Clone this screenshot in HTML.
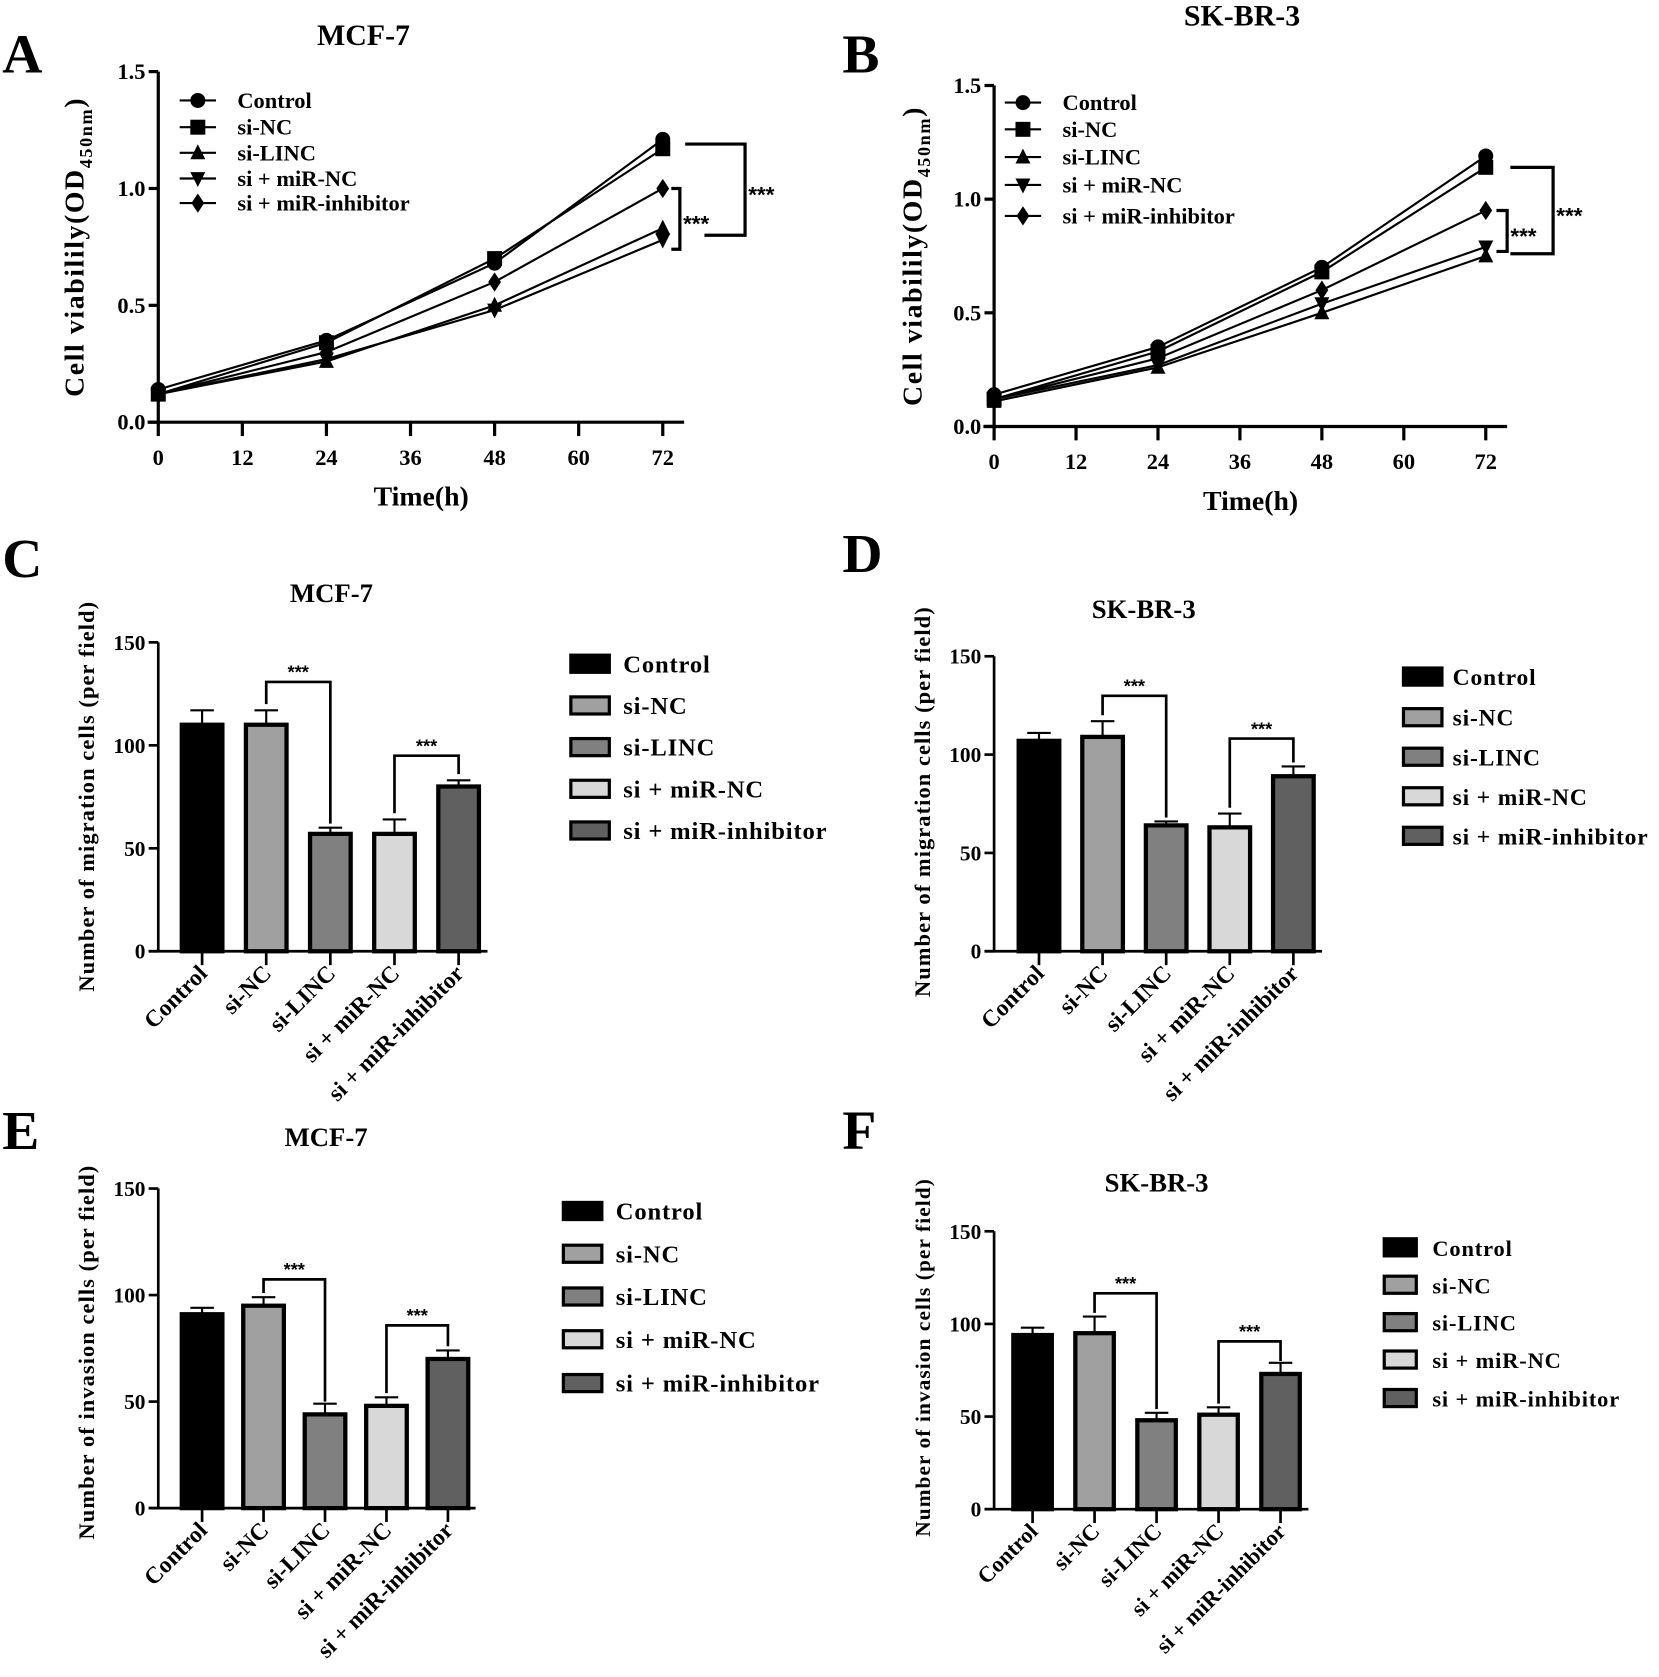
<!DOCTYPE html>
<html><head><meta charset="utf-8"><style>
html,body{margin:0;padding:0;background:#fff;}
svg{display:block;font-family:"Liberation Serif",serif;font-weight:bold;}
</style></head><body>
<svg id="fig" width="1659" height="1677" viewBox="0 0 1552 1569" xmlns="http://www.w3.org/2000/svg"></svg>
<script>
const NS="http://www.w3.org/2000/svg";
const svg=document.getElementById('fig');
// ---- data ----
const timePoints=[0,24,48,72];
const xTicks=[0,12,24,36,48,60,72];
const yTicksLine=[0,0.5,1.0,1.5];
const seriesNames=["Control","si-NC","si-LINC","si + miR-NC","si + miR-inhibitor"];
const aControl=[0.14,0.35,0.68,1.21];
const aSiNC=[0.12,0.34,0.70,1.17];
const aSiLINC=[0.12,0.26,0.50,0.83];
const aMiRNC=[0.12,0.27,0.48,0.78];
const aInhib=[0.12,0.30,0.60,1.00];
const bControl=[0.14,0.35,0.70,1.19];
const bSiNC=[0.12,0.33,0.68,1.14];
const bSiLINC=[0.11,0.26,0.50,0.75];
const bMiRNC=[0.12,0.27,0.54,0.79];
const bInhib=[0.12,0.30,0.60,0.95];
const barCats=["Control","si-NC","si-LINC","si + miR-NC","si + miR-inhibitor"];
const yTicksBar=[0,50,100,150];
const cVals=[110,110,57,57,80]; const cErr=[7,7,3,7,3];
const dVals=[107,109,64,63,89]; const dErr=[4,8,2,7,5];
const eVals=[91,95,44,48,70]; const eErr=[3,4,5,4,4];
const fVals=[94,95,48,51,73]; const fErr=[4,9,4,4,6];
const barColors=["#000","#a0a0a0","#808080","#d8d8d8","#606060"];

function el(tag,attrs,parent,text){const e=document.createElementNS(NS,tag);for(const k in attrs)e.setAttribute(k,attrs[k]);if(text!==undefined)e.textContent=text;(parent||svg).appendChild(e);return e;}

function marker(g,i,x,y){
  const s=7;
  if(i===0)el('circle',{cx:x,cy:y,r:s},g);
  else if(i===1)el('rect',{x:x-s,y:y-s,width:2*s,height:2*s},g);
  else if(i===2)el('polygon',{points:`${x},${y-s-1} ${x-s},${y+s-1} ${x+s},${y+s-1}`},g);
  else if(i===3)el('polygon',{points:`${x},${y+s+1} ${x-s},${y-s+1} ${x+s},${y-s+1}`},g);
  else el('polygon',{points:`${x},${y-s-2} ${x-s+1},${y} ${x},${y+s+2} ${x+s-1},${y}`},g);
}

function linePanel(p){
  const g=el('g',{});
  
  
  const X=t=>p.x0+(t/72)*(p.x72-p.x0);
  const Y=v=>p.y0-(v/1.5)*(p.y0-p.y15);
  el('text',{x:p.letterX,y:p.letterY,'font-size':52},g,p.letter);
  el('text',{x:p.titleX,y:p.titleY,'font-size':28,'text-anchor':'middle'},g,p.title);
  el('line',{x1:p.x0,y1:Y(1.5),x2:p.x0,y2:p.y0+2,stroke:'#000','stroke-width':3},g);
  el('line',{x1:p.x0-10,y1:p.y0,x2:p.xEnd,y2:p.y0,stroke:'#000','stroke-width':3},g);
  yTicksLine.forEach(v=>{el('line',{x1:p.x0-9,y1:Y(v),x2:p.x0,y2:Y(v),stroke:'#000','stroke-width':3},g);
    el('text',{x:p.x0-12,y:Y(v)+7,'font-size':21,'text-anchor':'end'},g,v.toFixed(1));});
  xTicks.forEach(t=>{el('line',{x1:X(t),y1:p.y0,x2:X(t),y2:p.y0+13,stroke:'#000','stroke-width':3},g);
    el('text',{x:X(t),y:p.y0+40,'font-size':21,'text-anchor':'middle'},g,String(t));});
  el('text',{x:(p.x0+p.x72)/2+10,y:p.y0+78,'font-size':26,'text-anchor':'middle'},g,'Time(h)');
  const yl=el('text',{transform:`translate(${p.ylx},${(p.y0+Y(1.5))/2}) rotate(-90)`,'font-size':26,'text-anchor':'middle','letter-spacing':'1.5'},g);
  yl.textContent='Cell viabilily(OD';
  el('tspan',{'font-size':17,dy:8},yl,'450nm');
  el('tspan',{dy:-8},yl,')');
  p.series.forEach((s,i)=>{
    el('polyline',{points:s.map((v,j)=>X(timePoints[j])+','+Y(v)).join(' '),fill:'none',stroke:'#000','stroke-width':2},g);
    s.forEach((v,j)=>marker(g,i,X(timePoints[j]),Y(v)));
  });
  seriesNames.forEach((n,i)=>{const ly=p.legY[i];
    el('line',{x1:p.legX-17,y1:ly,x2:p.legX+17,y2:ly,stroke:'#000','stroke-width':2},g);
    marker(g,i,p.legX,ly);
    el('text',{x:p.legX+37,y:ly+7,'font-size':21},g,n);});
  p.brackets.forEach(b=>{
    el('polyline',{points:`${b.x-b.a1},${Y(b.v1)} ${b.x},${Y(b.v1)} ${b.x},${Y(b.v2)} ${b.x-b.a2},${Y(b.v2)}`,fill:'none',stroke:'#000','stroke-width':3},g);
    el('text',{x:b.x+3,y:(Y(b.v1)+Y(b.v2))/2+12,'font-size':21,'font-family':'Liberation Sans'},g,'***');
  });
}

function barPanel(p){
  const g=el('g',{});
  
  
  const Y=v=>p.y0-(v/150)*(p.y0-p.y150);
  const X=i=>p.c0+i*p.step;
  el('text',{x:p.letterX,y:p.letterY,'font-size':52},g,p.letter);
  el('text',{x:p.titleX,y:p.titleY,'font-size':25,'text-anchor':'middle'},g,p.title);
  el('line',{x1:p.x0,y1:Y(150),x2:p.x0,y2:p.y0+1,stroke:'#000','stroke-width':2.5},g);
  el('line',{x1:p.x0-9,y1:p.y0,x2:X(4)+p.step*0.45,y2:p.y0,stroke:'#000','stroke-width':2.5},g);
  yTicksBar.forEach(v=>{el('line',{x1:p.x0-9,y1:Y(v),x2:p.x0,y2:Y(v),stroke:'#000','stroke-width':2.5},g);
    el('text',{x:p.x0-12,y:Y(v)+7,'font-size':20,'text-anchor':'end'},g,String(v));});
  el('text',{transform:`translate(${p.ylx},${p.yly}) rotate(-90)`,'font-size':p.ylFS||21,'text-anchor':'middle','letter-spacing':'1'},g,p.ylabel);
  p.vals.forEach((v,i)=>{
    const cx=X(i),w=p.bw;
    el('line',{x1:cx,y1:Y(v),x2:cx,y2:Y(v+p.err[i]),stroke:'#000','stroke-width':2},g);
    el('line',{x1:cx-11,y1:Y(v+p.err[i]),x2:cx+11,y2:Y(v+p.err[i]),stroke:'#000','stroke-width':2},g);
    const r=el('rect',{x:cx-w/2,y:Y(v),width:w,height:p.y0-Y(v),fill:barColors[i],stroke:'#000','stroke-width':4},g);
    
    
    el('line',{x1:cx,y1:p.y0,x2:cx,y2:p.y0+13,stroke:'#000','stroke-width':2.5},g);
    el('text',{transform:`translate(${cx+6},${p.y0+22}) rotate(-45)`,'font-size':p.xFS||22,'text-anchor':'end'},g,barCats[i]);
  });
  barCats.forEach((n,i)=>{const ly=p.legY[i];
    el('rect',{x:p.legX,y:ly-8,width:p.legW,height:16,fill:barColors[i],stroke:'#000','stroke-width':3},g);
    el('text',{x:p.legTX,y:ly+8,'font-size':p.legFS,'letter-spacing':'0.8'},g,n);});
  p.brackets.forEach(b=>{
    const ya=Y(b.vA),yb=Y(b.vB),yt=b.top;
    el('polyline',{points:`${X(b.a)},${ya} ${X(b.a)},${yt} ${X(b.b)},${yt} ${X(b.b)},${yb}`,fill:'none',stroke:'#000','stroke-width':2.5},g);
    el('text',{x:(X(b.a)+X(b.b))/2,y:yt-3,'font-size':17,'text-anchor':'middle','font-family':'Liberation Sans'},g,'***');
  });
}

linePanel({name:'panel-a-mcf7-viability',letter:'A',letterX:2,letterY:68,title:'MCF-7',titleX:340,titleY:42,
 x0:148,x72:620,xEnd:640,y0:395,y15:67,ylx:78,
 series:[aControl,aSiNC,aSiLINC,aMiRNC,aInhib],legX:185,legY:[94,119,143,167,190],
 brackets:[{x:697,v1:1.19,v2:0.8,a1:56,a2:38},{x:636,v1:1.0,v2:0.74,a1:8,a2:8}]});
linePanel({name:'panel-b-skbr3-viability',letter:'B',letterX:788,letterY:68,title:'SK-BR-3',titleX:1162,titleY:24,
 x0:930,x72:1390,xEnd:1410,y0:399,y15:80,ylx:862,
 series:[bControl,bSiNC,bSiLINC,bMiRNC,bInhib],legX:957,legY:[96,121,147,173,202],
 brackets:[{x:1453,v1:1.14,v2:0.76,a1:40,a2:40},{x:1410,v1:0.95,v2:0.77,a1:10,a2:10}]});
barPanel({name:'panel-c-mcf7-migration',letter:'C',letterX:2,letterY:540,title:'MCF-7',titleX:310,titleY:563,
 x0:148,y0:890,y150:601,c0:189,step:60,bw:38,ylx:88,yly:745,ylabel:'Number of migration cells (per field)',
 vals:cVals,err:cErr,legX:534,legW:36,legTX:583,legFS:23,legY:[621,660,699,738,777],
 brackets:[{a:1,b:2,vA:120,vB:57+3+2,top:638},{a:3,b:4,vA:67,vB:86,top:707}]});
barPanel({name:'panel-d-skbr3-migration',letter:'D',letterX:788,letterY:535,title:'SK-BR-3',titleX:1070,titleY:578,
 x0:930,y0:890,y150:614,c0:972,step:59.5,bw:38,ylx:870,yly:750,ylabel:'Number of migration cells (per field)',
 vals:dVals,err:dErr,legX:1313,legW:36,legTX:1359,legFS:22,legY:[633,671,708,745,782],
 brackets:[{a:1,b:2,vA:120,vB:68,top:651},{a:3,b:4,vA:73,vB:96,top:691}]});
barPanel({name:'panel-e-mcf7-invasion',letter:'E',letterX:2,letterY:1075,title:'MCF-7',titleX:305,titleY:1072,
 x0:148,y0:1411,y150:1112,c0:189,step:57.5,bw:38,ylx:88,yly:1265,ylabel:'Number of invasion cells (per field)',
 vals:eVals,err:eErr,legX:527,legW:36,legTX:576,legFS:23,legY:[1133,1173,1213,1253,1294],
 brackets:[{a:1,b:2,vA:101,vB:50,top:1197},{a:3,b:4,vA:54,vB:76,top:1240}]});
barPanel({name:'panel-f-skbr3-invasion',letter:'F',letterX:788,letterY:1075,title:'SK-BR-3',titleX:1082,titleY:1115,
 x0:930,y0:1412,y150:1152,c0:966,step:58,bw:36,ylx:870,yly:1270,ylFS:20,xFS:21,ylabel:'Number of invasion cells (per field)',
 vals:fVals,err:fErr,legX:1295,legW:30,legTX:1340,legFS:21,legY:[1167,1202,1237,1272,1308],
 brackets:[{a:1,b:2,vA:106,vB:54,top:1210},{a:3,b:4,vA:57,vB:80,top:1255}]});
</script>
</body></html>
